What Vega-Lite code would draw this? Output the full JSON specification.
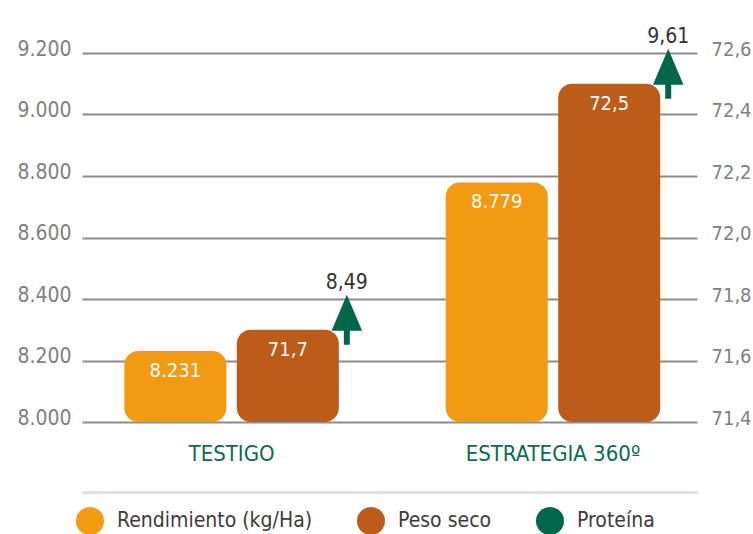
{
  "$schema": "https://vega.github.io/schema/vega-lite/v6.json",
  "width": 615,
  "height": 369,
  "autosize": {"type": "none"},
  "padding": {"left": 82, "top": 53, "right": 56, "bottom": 112},
  "background": "white",
  "config": {
    "locale": {"number": {"decimal": ",", "thousands": ".", "grouping": [3], "currency": ["", " €"]}},
    "font": "DejaVu Sans Condensed",
    "view": {"stroke": null}
  },
  "data": {
    "values": [
      {"grupo": "TESTIGO", "rendimiento": 8231, "peso_seco": 71.7, "proteina": 8.49},
      {"grupo": "ESTRATEGIA 360º", "rendimiento": 8779, "peso_seco": 72.5, "proteina": 9.61}
    ]
  },
  "layer": [
    {
      "mark": {"type": "bar", "cornerRadius": 14},
      "encoding": {
        "x": {
          "field": "grupo", "type": "nominal",
          "scale": {"domain": ["TESTIGO", "ESTRATEGIA 360º"], "paddingInner": 0.3326, "paddingOuter": 0.1231, "align": 0.535},
          "axis": {"orient": "bottom", "title": null, "domain": false, "ticks": false, "labelFontSize": 22, "labelColor": "#0b6b4f", "labelPadding": 21, "labelAngle": 0, "grid": false}
        },
        "xOffset": {"datum": "Rendimiento (kg/Ha)", "type": "nominal", "scale": {"domain": ["Rendimiento (kg/Ha)", "Peso seco"], "paddingInner": 0.093, "paddingOuter": 0}},
        "y": {
          "field": "rendimiento", "type": "quantitative",
          "scale": {"domain": [8000, 9200], "zero": false, "nice": false},
          "axis": {"orient": "left", "title": null, "values": [8000, 8200, 8400, 8600, 8800, 9000, 9200], "format": ",.0f", "domain": false, "ticks": false, "grid": true, "gridColor": "#8c8c8c", "gridWidth": 2, "labelFontSize": 21, "labelColor": "#808080", "labelPadding": 11, "labelBaseline": "alphabetic", "labelOffset": 2, "labelFlush": false, "labelOverlap": false}
        },
        "y2": {"datum": 8000},
        "color": {
          "datum": "Rendimiento (kg/Ha)", "type": "nominal",
          "scale": {"domain": ["Rendimiento (kg/Ha)", "Peso seco", "Proteína"], "range": ["#f39a13", "#bd5b18", "#00674b"]},
          "legend": {"orient": "none", "legendX": -6, "legendY": 454, "direction": "horizontal", "title": null, "symbolType": "circle", "symbolSize": 784, "symbolStrokeWidth": 0, "symbolOpacity": 1, "labelFontSize": 21, "labelColor": "#3c3c3c", "labelOffset": 13, "columnPadding": 44, "padding": 0, "labelLimit": 400}
        }
      }
    },
    {
      "mark": {"type": "text", "baseline": "alphabetic", "dy": 26, "fontSize": 20, "color": "white"},
      "encoding": {
        "x": {"field": "grupo", "type": "nominal", "axis": null},
        "xOffset": {"datum": "Rendimiento (kg/Ha)", "type": "nominal"},
        "y": {"field": "rendimiento", "type": "quantitative", "scale": {"domain": [8000, 9200], "zero": false, "nice": false}, "axis": null},
        "text": {"field": "rendimiento", "type": "quantitative", "format": ",.0f"}
      }
    },
    {
      "mark": {"type": "bar", "cornerRadius": 14},
      "encoding": {
        "x": {
          "field": "grupo", "type": "nominal",
          "axis": {"orient": "bottom", "title": null, "labels": false, "ticks": false, "grid": false, "domain": true, "domainColor": "#e4e0db", "domainWidth": 3, "offset": 70}
        },
        "xOffset": {"datum": "Peso seco", "type": "nominal"},
        "y": {
          "field": "peso_seco", "type": "quantitative",
          "scale": {"domain": [71.4, 72.6], "zero": false, "nice": false},
          "axis": {"orient": "right", "title": null, "values": [71.4, 71.6, 71.8, 72.0, 72.2, 72.4, 72.6], "format": ".1f", "domain": false, "ticks": false, "grid": false, "labelFontSize": 20, "labelColor": "#808080", "labelPadding": 14, "labelBaseline": "alphabetic", "labelOffset": 2, "labelFlush": false, "labelOverlap": false}
        },
        "y2": {"datum": 71.4},
        "color": {"datum": "Peso seco", "type": "nominal"}
      }
    },
    {
      "mark": {"type": "text", "baseline": "alphabetic", "dy": 26, "fontSize": 20, "color": "white"},
      "encoding": {
        "x": {"field": "grupo", "type": "nominal", "axis": null},
        "xOffset": {"datum": "Peso seco", "type": "nominal"},
        "y": {"field": "peso_seco", "type": "quantitative", "scale": {"domain": [71.4, 72.6], "zero": false, "nice": false}, "axis": null},
        "text": {"field": "peso_seco", "type": "quantitative", "format": ".1f"}
      }
    },
    {
      "mark": {"type": "point", "shape": "M0,-1L0.61,0.44L0.12,0.44L0.12,1L-0.12,1L-0.12,0.44L-0.61,0.44Z", "size": 2500, "filled": true, "fill": "#00674b", "opacity": 1, "strokeWidth": 0, "xOffset": 8, "yOffset": -10},
      "encoding": {
        "x": {"field": "grupo", "type": "nominal", "bandPosition": 1, "axis": null},
        "y": {"field": "peso_seco", "type": "quantitative", "scale": {"domain": [71.4, 72.6], "zero": false, "nice": false}, "axis": null}
      }
    },
    {
      "mark": {"type": "text", "baseline": "alphabetic", "dx": 8, "dy": -40.5, "fontSize": 21, "color": "#333333"},
      "encoding": {
        "x": {"field": "grupo", "type": "nominal", "bandPosition": 1, "axis": null},
        "y": {"field": "peso_seco", "type": "quantitative", "scale": {"domain": [71.4, 72.6], "zero": false, "nice": false}, "axis": null},
        "text": {"field": "proteina", "type": "quantitative", "format": ".2f"}
      }
    }
  ],
  "resolve": {"scale": {"y": "independent"}, "axis": {"x": "independent", "y": "independent"}}
}
